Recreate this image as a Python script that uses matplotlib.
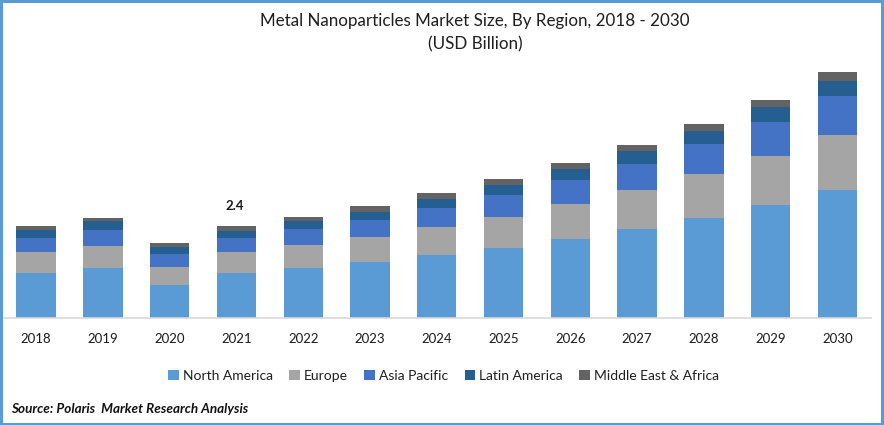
import matplotlib
matplotlib.use('Agg')
import matplotlib.pyplot as plt
from matplotlib.patches import Rectangle

YEARS = ['2018', '2019', '2020', '2021', '2022', '2023', '2024', '2025', '2026', '2027', '2028', '2029', '2030']

NORTH_AMERICA = [1.17, 1.30, 0.86, 1.17, 1.30, 1.46, 1.64, 1.83, 2.06, 2.32, 2.61, 2.95, 3.34]
EUROPE = [0.55, 0.57, 0.47, 0.55, 0.60, 0.65, 0.73, 0.81, 0.91, 1.02, 1.15, 1.28, 1.43]
ASIA_PACIFIC = [0.37, 0.42, 0.34, 0.37, 0.42, 0.44, 0.50, 0.57, 0.63, 0.68, 0.78, 0.89, 1.02]
LATIN_AMERICA = [0.21, 0.23, 0.18, 0.18, 0.21, 0.21, 0.23, 0.26, 0.29, 0.34, 0.34, 0.39, 0.39]
MIDDLE_EAST = [0.10, 0.10, 0.10, 0.13, 0.10, 0.16, 0.16, 0.16, 0.16, 0.16, 0.18, 0.18, 0.23]

SERIES = [
    ('North America', NORTH_AMERICA, '#5B9BD5'),
    ('Europe', EUROPE, '#A5A5A5'),
    ('Asia Pacific', ASIA_PACIFIC, '#4472C4'),
    ('Latin America', LATIN_AMERICA, '#255E91'),
    ('Middle East & Africa', MIDDLE_EAST, '#636363'),
]

W, H = 884, 425
plt.rcParams['font.family'] = ['Lato', 'DejaVu Sans']

fig = plt.figure(figsize=(W / 100, H / 100), dpi=100)
ax = fig.add_axes([2.8 / W, 1 - 318 / H, 868 / W, 250 / H])

x = list(range(len(YEARS)))
bottom = [0] * len(YEARS)
for name, values, color in SERIES:
    ax.bar(x, values, 0.59, bottom=bottom, color=color, label=name)
    bottom = [b + v for b, v in zip(bottom, values)]

# only 2021 is labelled in the original
ax.text(2.98, bottom[3] + 0.53, '2.4', ha='center', va='center', fontsize=9.5, fontweight='bold', color='#1a1a1a')

ax.set_xlim(-0.5, 12.5)
ax.set_ylim(0, 250 / 38.33)
ax.set_yticks([])
ax.set_xticks(x)
ax.set_xticklabels(YEARS, fontsize=9.5, color='#1a1a1a')
ax.tick_params(axis='x', length=0, pad=11)
for side in ['top', 'left', 'right']:
    ax.spines[side].set_visible(False)
ax.spines['bottom'].set_color('#d9d9d9')
ax.spines['bottom'].set_linewidth(1.2)

fig.text(475 / W, 1 - 21 / H, 'Metal Nanoparticles Market Size, By Region, 2018 - 2030', ha='center', va='center',
         fontsize=12.25, color='#1f1f1f')
fig.text(475 / W, 1 - 44 / H, '(USD Billion)', ha='center', va='center', fontsize=12.25, color='#1f1f1f')
fig.text(11 / W, 1 - 409 / H, 'Source: Polaris  Market Research Analysis', ha='left', va='center',
         fontsize=9.7, fontweight='bold', fontstyle='italic', color='#111111')

ax.legend(loc='center', bbox_to_anchor=(443.5 / W, 1 - 375.5 / H), bbox_transform=fig.transFigure, ncol=5, frameon=False,
          fontsize=10, handlelength=0.75, handleheight=0.75, handletextpad=0.3, columnspacing=1.19, labelcolor='#1f1f1f')

# thin blue frame around the picture
BORDER = '#5B9BD5'
fig.add_artist(Rectangle((0, 0), 2.5 / W, 1, transform=fig.transFigure, color=BORDER, lw=0))
fig.add_artist(Rectangle((1 - 3 / W, 0), 3 / W, 1, transform=fig.transFigure, color=BORDER, lw=0))
fig.add_artist(Rectangle((0, 1 - 2.5 / H), 1, 2.5 / H, transform=fig.transFigure, color=BORDER, lw=0))
fig.add_artist(Rectangle((0, 0), 1, 2.5 / H, transform=fig.transFigure, color=BORDER, lw=0))

fig.savefig('out.png', dpi=100)
